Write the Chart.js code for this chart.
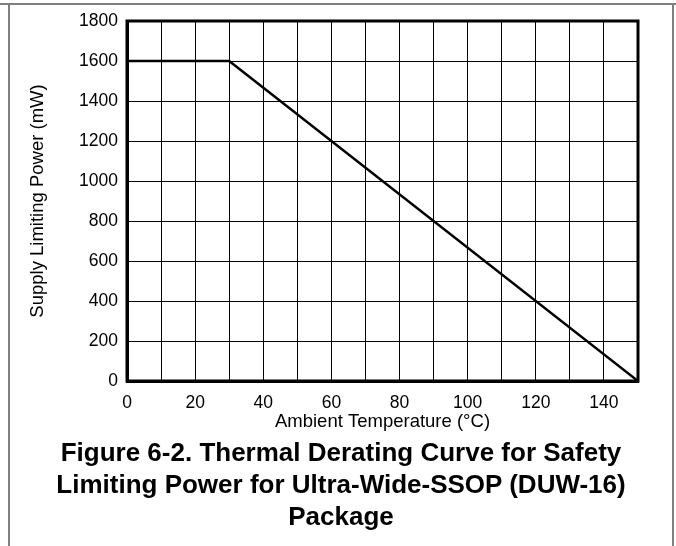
<!DOCTYPE html>
<html>
<head>
<meta charset="utf-8">
<script src="https://cdn.jsdelivr.net/npm/chart.js@4"></script>
<style>
html,body{margin:0;padding:0;background:#fff;}
#wrap{position:relative;width:676px;height:546px;overflow:hidden;}
#frameTop{position:absolute;left:0;top:3px;width:676px;height:0;border-top:2px solid #7f7f7f;}
#frameL{position:absolute;left:8px;top:3px;width:0;height:560px;border-left:2px solid #7f7f7f;}
#frameR{position:absolute;left:672px;top:3px;width:0;height:560px;border-left:2px solid #7f7f7f;}
#cap{position:absolute;left:10px;width:662px;top:436px;text-align:center;font-family:"Liberation Sans",Arial,sans-serif;font-weight:bold;font-size:26px;line-height:32px;color:#000;}
canvas{position:absolute;left:0;top:0;}
</style>
</head>
<body>
<div id="wrap">
<canvas id="c" width="676" height="546"></canvas>
<div id="frameTop"></div><div id="frameL"></div><div id="frameR"></div>
<div id="cap">Figure 6-2. Thermal Derating Curve for Safety<br>Limiting Power for Ultra-Wide-SSOP (DUW-16)<br>Package</div>
</div>
<script>
const temps = [0, 30, 150];
const powers = [1600, 1600, 0];
const xTickLabels = [0, 20, 40, 60, 80, 100, 120, 140];
const yTickLabels = [0, 200, 400, 600, 800, 1000, 1200, 1400, 1600, 1800];
const xTitle = "Ambient Temperature (°C)";
const yTitle = "Supply Limiting Power (mW)";

const fam = '"Liberation Sans", Arial, sans-serif';
const tickFont = {family: fam, size: 17.5};
const titleFont = {family: fam, size: 18.5};

new Chart(document.getElementById('c'), {
  type: 'scatter',
  data: {
    datasets: [{
      data: temps.map((t, i) => ({x: t, y: powers[i]})),
      showLine: true,
      borderColor: '#000',
      borderWidth: 2.5,
      pointRadius: 0,
      fill: false
    }]
  },
  options: {
    responsive: false,
    animation: false,
    plugins: {legend: {display: false}, tooltip: {enabled: false}},
    layout: {padding: {left: 0, right: 38, top: 21, bottom: 113}},
    scales: {
      x: {
        type: 'linear', min: 0, max: 150,
        afterFit: s => { s.height = 52; },
        ticks: {stepSize: 10, color: '#000', font: tickFont, padding: 12, maxRotation: 0,
          callback: v => xTickLabels.includes(v) ? String(v) : ''},
        grid: {color: '#000', lineWidth: 1, drawTicks: false},
        border: {color: '#000', width: 3},
        title: {display: true, text: xTitle, color: '#000', font: titleFont, padding: {top: 0, bottom: 0}}
      },
      y: {
        type: 'linear', min: 0, max: 1800,
        afterFit: s => { s.width = 127; },
        ticks: {stepSize: 100, color: '#000', font: tickFont, padding: 9,
          callback: v => yTickLabels.includes(v) ? String(v) : ''},
        grid: {color: '#000', lineWidth: 1, drawTicks: false},
        border: {color: '#000', width: 3},
        title: {display: true, text: yTitle, color: '#000', font: titleFont, padding: {top: 27, bottom: 0}}
      }
    }
  },
  plugins: [{
    id: 'box',
    afterDraw(chart) {
      const {ctx, chartArea: a} = chart;
      ctx.save();
      ctx.strokeStyle = '#000';
      ctx.lineWidth = 3;
      ctx.strokeRect(a.left, a.top, a.right - a.left, a.bottom - a.top);
      ctx.restore();
    }
  }]
});
</script>
</body>
</html>
